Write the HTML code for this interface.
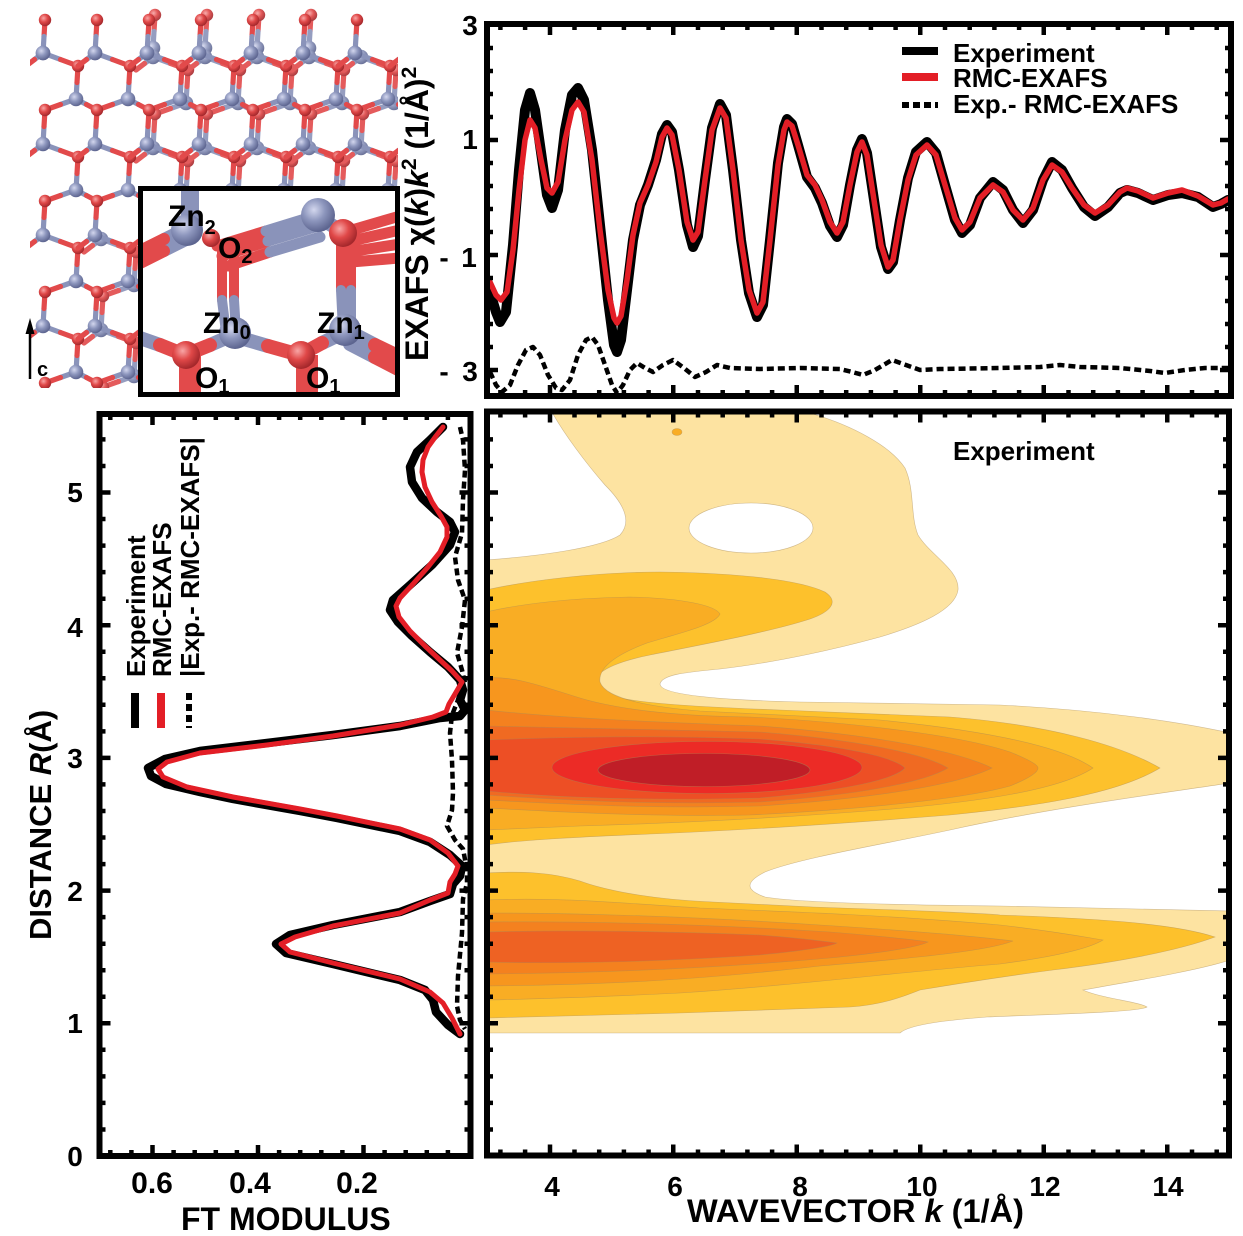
<!DOCTYPE html>
<html><head><meta charset="utf-8"><style>
html,body{margin:0;padding:0;background:#fff;}
svg{display:block;}
text{font-family:"Liberation Sans",Arial,sans-serif;font-weight:bold;fill:#000;}
</style></head><body>
<svg width="1243" height="1236" viewBox="0 0 1243 1236" xmlns="http://www.w3.org/2000/svg">
<defs>
<radialGradient id="gz" cx="38%" cy="35%" r="65%"><stop offset="0" stop-color="#d3d7ee"/><stop offset="0.5" stop-color="#8d96bd"/><stop offset="1" stop-color="#5d6590"/></radialGradient>
<radialGradient id="go" cx="38%" cy="35%" r="65%"><stop offset="0" stop-color="#f8a5a5"/><stop offset="0.5" stop-color="#e04848"/><stop offset="1" stop-color="#a5282c"/></radialGradient>
<g id="cell">
<path fill="none" stroke="#8a93ba" stroke-width="5.2" stroke-linecap="round" d="M0 0L17.5 6.5M34 29.5L33 46L17.5 51.5M1 73.5L0 91M33 46L43.5 51.5M0 0L-8.5 6.5"/>
<path fill="none" stroke="#e24a4b" stroke-width="5.2" stroke-linecap="round" d="M17.5 6.5L35 13L34 29.5M17.5 51.5L2 57L1 73.5M43.5 51.5L54 57M-8.5 6.5L-17 13"/>
<circle cx="0" cy="0" r="7.3" fill="url(#gz)"/>
<circle cx="33" cy="46" r="7.3" fill="url(#gz)"/>
<circle cx="35" cy="13" r="6.2" fill="url(#go)"/>
<circle cx="2" cy="57" r="6.2" fill="url(#go)"/>
</g>
<g id="stub">
<path fill="none" stroke="#e24a4b" stroke-width="5.2" stroke-linecap="round" d="M2 -33L1 -16.5"/>
<path fill="none" stroke="#8a93ba" stroke-width="5.2" stroke-linecap="round" d="M1 -16.5L0 0"/>
<circle cx="2" cy="-33" r="6.2" fill="url(#go)"/>
<circle cx="0" cy="0" r="7.3" fill="url(#gz)"/>
</g>
<clipPath id="lat"><rect x="30" y="5" width="368" height="383"/></clipPath>
<clipPath id="ins"><rect x="143" y="191" width="252" height="201"/></clipPath>
<clipPath id="cc"><rect x="490" y="414" width="737" height="740"/></clipPath>
<path id="kmaj" d="M550 0v11M673.25 0v11M796.75 0v11M920.25 0v11M1043.75 0v11M1167.25 0v11"/>
<path id="kmin" d="M500.4 0v6M525.1 0v6M574.5 0v6M599.2 0v6M623.9 0v6M648.6 0v6M698 0v6M722.7 0v6M747.4 0v6M772.1 0v6M821.5 0v6M846.2 0v6M870.9 0v6M895.6 0v6M945 0v6M969.7 0v6M994.4 0v6M1019.1 0v6M1068.5 0v6M1093.2 0v6M1117.9 0v6M1142.6 0v6M1192 0v6M1216.7 0v6"/>
<path id="emaj" d="M0 140h11M0 255h11M0 370h11"/>
<path id="emin" d="M0 48h6M0 71h6M0 94h6M0 117h6M0 163h6M0 186h6M0 209h6M0 232h6M0 278h6M0 301h6M0 324h6M0 347h6"/>
<path id="rmaj" d="M0 1023.3h11M0 890.6h11M0 757.9h11M0 625.2h11M0 492.5h11"/>
<path id="rmin" d="M0 1129.5h6M0 1102.9h6M0 1076.4h6M0 1049.8h6M0 996.8h6M0 970.2h6M0 943.7h6M0 917.1h6M0 864.1h6M0 837.5h6M0 811h6M0 784.4h6M0 731.4h6M0 704.8h6M0 678.3h6M0 651.7h6M0 598.7h6M0 572.1h6M0 545.6h6M0 519h6M0 466h6M0 439.4h6"/>
<path id="fmaj" d="M152.5 0v11M258 0v11M363.5 0v11"/>
<path id="fmin" d="M110.3 0v6M131.4 0v6M173.6 0v6M194.7 0v6M215.8 0v6M236.9 0v6M279.1 0v6M300.2 0v6M321.3 0v6M342.4 0v6M384.6 0v6M405.7 0v6M426.8 0v6M447.9 0v6"/>
</defs>
<rect width="1243" height="1236" fill="#fff"/>

<!-- ===== crystal lattice ===== -->
<g clip-path="url(#lat)">
<g opacity="0.9">
<use href="#stub" x="153" y="48"/><use href="#stub" x="205" y="48"/><use href="#stub" x="257" y="48"/><use href="#stub" x="309" y="48"/>
<use href="#cell" x="153" y="57"/><use href="#cell" x="205" y="57"/><use href="#cell" x="257" y="57"/><use href="#cell" x="309" y="57"/><use href="#cell" x="361" y="57"/>
<use href="#cell" x="153" y="148"/><use href="#cell" x="205" y="148"/><use href="#cell" x="257" y="148"/><use href="#cell" x="309" y="148"/><use href="#cell" x="361" y="148"/>
<use href="#cell" x="101" y="239"/><use href="#cell" x="153" y="239"/><use href="#cell" x="205" y="239"/>
<use href="#cell" x="101" y="330"/><use href="#cell" x="153" y="330"/>
</g>
<use href="#stub" x="43" y="53"/><use href="#stub" x="95" y="53"/><use href="#stub" x="147" y="53"/><use href="#stub" x="199" y="53"/><use href="#stub" x="251" y="53"/><use href="#stub" x="303" y="53"/><use href="#stub" x="355" y="53"/>
<use href="#cell" x="43" y="53"/><use href="#cell" x="95" y="53"/><use href="#cell" x="147" y="53"/><use href="#cell" x="199" y="53"/><use href="#cell" x="251" y="53"/><use href="#cell" x="303" y="53"/><use href="#cell" x="355" y="53"/><use href="#cell" x="407" y="53"/>
<use href="#cell" x="43" y="144"/><use href="#cell" x="95" y="144"/><use href="#cell" x="147" y="144"/><use href="#cell" x="199" y="144"/><use href="#cell" x="251" y="144"/><use href="#cell" x="303" y="144"/><use href="#cell" x="355" y="144"/><use href="#cell" x="407" y="144"/>
<use href="#cell" x="43" y="235"/><use href="#cell" x="95" y="235"/><use href="#cell" x="147" y="235"/><use href="#cell" x="199" y="235"/><use href="#cell" x="251" y="235"/><use href="#cell" x="303" y="235"/><use href="#cell" x="355" y="235"/><use href="#cell" x="407" y="235"/>
<use href="#cell" x="43" y="326"/><use href="#cell" x="95" y="326"/><use href="#cell" x="147" y="326"/><use href="#cell" x="199" y="326"/><use href="#cell" x="251" y="326"/><use href="#cell" x="303" y="326"/><use href="#cell" x="355" y="326"/><use href="#cell" x="407" y="326"/>
</g>

<!-- c arrow -->
<line x1="30" y1="379" x2="30" y2="330" stroke="#000" stroke-width="2.5"/>
<polygon points="30,318 25.5,334 34.5,334" fill="#000"/>
<text x="37" y="376" font-size="20">c</text>

<!-- ===== inset ===== -->
<rect x="140.5" y="188.5" width="257" height="206" fill="#fff"/>
<g clip-path="url(#ins)" stroke-linecap="round" fill="none">
<path stroke="#8a93ba" stroke-width="12" d="M186 228L164 239M186 240L164 251"/>
<path stroke="#e24a4b" stroke-width="12" d="M164 239L140 251M164 251L140 263"/>
<path stroke="#8a93ba" stroke-width="18" d="M190 230L190 185"/>
<path stroke="#e24a4b" stroke-width="11" d="M217 246L266 231M222 256L268 241M228 266L270 252"/>
<path stroke="#8a93ba" stroke-width="11" d="M266 231L318 215M268 241L318 226M270 252L320 237"/>
<path stroke="#8a93ba" stroke-width="14" d="M318 217L343 232"/>
<path stroke="#e24a4b" stroke-width="11" d="M345 232L400 216M347 242L400 230M349 252L400 244M351 262L400 258"/>
<path stroke="#e24a4b" stroke-width="10" d="M341 240L341 290M351 240L351 290"/>
<path stroke="#8a93ba" stroke-width="10" d="M341 290L343 330M351 290L351 328"/>
<path stroke="#e24a4b" stroke-width="10" d="M222 250L222 300M234 250L234 300"/>
<path stroke="#8a93ba" stroke-width="10" d="M222 300L226 332M234 300L236 332"/>
<path stroke="#8a93ba" stroke-width="14" d="M233 335L210 345M140 338L160 345M237 337L268 346M345 332L322 343M350 332L375 345M350 344L375 357"/>
<path stroke="#e24a4b" stroke-width="14" d="M210 345L185 355M160 345L185 355M268 346L300 355M322 343L300 355M375 345L400 357M375 357L400 370"/>
<path stroke="#e24a4b" stroke-width="22" stroke-linecap="butt" d="M190 355L190 400M307 355L307 400"/>
</g>
<g clip-path="url(#ins)">
<circle cx="187" cy="230" r="16" fill="url(#gz)"/>
<circle cx="211" cy="238" r="9" fill="url(#go)"/>
<circle cx="318" cy="215" r="17" fill="url(#gz)"/>
<circle cx="343" cy="233" r="14" fill="url(#go)"/>
<circle cx="235" cy="333" r="16" fill="url(#gz)"/>
<circle cx="345" cy="330" r="16" fill="url(#gz)"/>
<circle cx="186" cy="355" r="14" fill="url(#go)"/>
<circle cx="301" cy="355" r="14" fill="url(#go)"/>
</g>
<text x="168" y="226" font-size="30">Zn<tspan font-size="20" dy="8">2</tspan></text>
<text x="218" y="258" font-size="30">O<tspan font-size="20" dy="5">2</tspan></text>
<text x="203" y="333" font-size="30">Zn<tspan font-size="20" dy="6">0</tspan></text>
<text x="317" y="333" font-size="30">Zn<tspan font-size="20" dy="6">1</tspan></text>
<text x="195" y="388" font-size="30">O<tspan font-size="20" dy="5">1</tspan></text>
<text x="306" y="388" font-size="30">O<tspan font-size="20" dy="5">1</tspan></text>
<rect x="140.5" y="188.5" width="257" height="206" fill="none" stroke="#000" stroke-width="5"/>

<!-- ===== top EXAFS panel ===== -->
<g fill="none" stroke-linejoin="round" stroke-linecap="round">
<polyline stroke="#000" stroke-width="4.5" stroke-dasharray="7 4" stroke-linecap="butt" points="490,372 496,385 502,392 510,385 518,365 526,350 533,347 540,355 548,375 556,388 562,390 570,380 578,355 586,340 592,337 598,345 605,365 612,385 617,393 623,385 630,370 637,363 645,368 653,372 663,365 673,360 684,368 695,377 706,372 717,365 730,368 760,369 800,368 840,369 852,372 863,375 875,370 892,360 906,365 920,370 940,369 1000,368 1040,367 1060,365 1080,367 1120,368 1150,371 1165,373 1185,370 1205,368 1228,368"/>
<polyline stroke="#000" stroke-width="10" points="490,292 496,312 500,322 506,312 513,245 519,170 525,110 530,93 535,110 541,152 547,195 552,208 558,190 565,130 572,95 578,88 584,100 592,150 600,225 608,300 614,345 617,352 621,340 627,290 633,240 640,205 648,185 656,160 662,134 667,125 672,132 679,170 687,225 693,247 698,236 705,180 712,128 720,104 726,115 733,170 741,240 749,293 757,317 763,305 770,240 778,163 784,127 787,119 792,124 798,145 807,177 815,188 822,203 830,226 837,237 843,225 850,185 857,150 862,139 867,153 874,200 881,247 888,269 893,262 900,220 908,178 916,152 927,142 936,153 945,185 955,220 962,233 970,225 980,198 993,182 1003,190 1013,210 1023,223 1033,210 1043,180 1052,162 1062,170 1072,188 1084,207 1095,216 1108,207 1120,193 1127,190 1138,193 1153,200 1168,195 1182,193 1198,197 1213,207 1221,204 1228,200"/>
<polyline stroke="#e31e26" stroke-width="5.5" points="490,282 496,295 501,300 507,292 513,250 519,190 525,140 530,120 535,128 541,160 547,188 552,193 558,182 565,140 572,110 578,102 584,112 592,160 600,230 608,290 614,318 617,323 621,316 627,280 633,235 640,203 648,185 656,162 662,137 667,128 672,135 679,170 687,222 693,240 698,232 705,180 712,130 720,108 726,118 733,170 741,240 749,290 757,313 763,302 770,240 778,165 784,130 787,122 792,126 798,145 807,175 815,185 822,200 830,222 837,233 843,222 850,185 857,152 862,142 867,155 874,200 881,245 888,267 893,260 900,220 908,180 916,155 927,145 936,155 945,185 955,218 962,230 970,222 980,198 993,185 1003,192 1013,210 1023,220 1033,208 1043,180 1052,165 1062,172 1072,188 1084,205 1095,213 1108,205 1120,192 1127,188 1138,191 1153,198 1168,193 1182,190 1198,196 1213,205 1221,203 1228,199"/>
</g>
<rect x="487" y="24" width="744" height="372" fill="none" stroke="#000" stroke-width="6"/>
<g stroke="#000" stroke-width="4.5" fill="none">
<use href="#kmaj" y="24"/><use href="#kmin" y="24"/>
<use href="#kmaj" transform="translate(0,396) scale(1,-1)"/><use href="#kmin" transform="translate(0,396) scale(1,-1)"/>
<use href="#emaj" x="487"/><use href="#emin" x="487"/>
<use href="#emaj" transform="translate(1231,0) scale(-1,1)"/><use href="#emin" transform="translate(1231,0) scale(-1,1)"/>
</g>
<!-- legend -->
<line x1="902" y1="51" x2="938" y2="51" stroke="#000" stroke-width="8"/>
<line x1="902" y1="77" x2="938" y2="77" stroke="#e31e26" stroke-width="8"/>
<line x1="902" y1="105" x2="938" y2="105" stroke="#000" stroke-width="6" stroke-dasharray="7 4"/>
<text x="953" y="62" font-size="26">Experiment</text>
<text x="953" y="87" font-size="26">RMC-EXAFS</text>
<text x="953" y="113" font-size="26">Exp.- RMC-EXAFS</text>
<!-- y tick labels -->
<text x="470" y="35" font-size="28" text-anchor="middle">3</text>
<text x="470" y="149" font-size="28" text-anchor="middle">1</text>
<text x="469" y="267" font-size="28" text-anchor="middle">1</text>
<text x="444" y="267" font-size="28" text-anchor="middle">-</text>
<text x="470" y="381" font-size="28" text-anchor="middle">3</text>
<text x="444" y="381" font-size="28" text-anchor="middle">-</text>
<text transform="translate(428,361) rotate(-90)" font-size="32">EXAFS χ(<tspan font-style="italic">k</tspan>)<tspan font-style="italic">k</tspan><tspan font-size="21" dy="-12">2</tspan><tspan dy="12"> (1/Å)</tspan><tspan font-size="21" dy="-12">2</tspan></text>

<!-- ===== contour panel ===== -->
<g clip-path="url(#cc)" stroke="#a88a5a" stroke-width="0.6" stroke-opacity="0.55">
<path fill="#fde3a1" d="M553,414 L813,414 C850,425 890,445 905,468 C915,490 910,515 918,535 C930,555 960,570 958,590 C955,610 920,625 880,637 C840,648 780,662 720,669 C690,672 662,674 660,684 C660,695 720,700 800,702 L1000,705 C1100,710 1180,722 1230,733 L1230,783 C1150,795 1050,808 950,830 C880,845 800,858 765,872 C745,882 745,890 765,897 C800,903 900,905 1000,906 L1230,911 L1230,960 C1200,970 1140,980 1083,990 C1100,998 1140,1002 1147,1007 C1140,1012 1060,1014 987,1017 C950,1020 910,1024 900,1033 L486,1033 L486,560 C540,556 600,548 620,535 C632,522 625,505 605,485 C585,462 565,435 553,414 Z"/>
<ellipse cx="751" cy="528" rx="62" ry="25" fill="#fff"/>
<path fill="#fdc12c" d="M486,590 C530,580 600,572 660,572 C740,573 800,580 825,592 C840,602 830,612 810,619 C770,632 700,645 650,655 C600,665 585,680 600,692 C620,703 700,707 780,710 L950,717 C1050,725 1120,745 1160,768 C1120,792 1050,805 950,815 C850,823 750,830 650,834 C580,837 520,840 486,845 Z"/>
<path fill="#fdc12c" d="M486,873 C520,871 550,872 580,881 C610,892 660,900 713,902 L813,907 C900,910 980,913 1000,915 C1080,918 1170,922 1215,937 C1180,950 1120,962 1053,970 C1000,977 950,985 920,990 C900,998 880,1005 850,1007 L680,1013 L486,1018 Z"/>
<path fill="#f9ad24" d="M486,612 C520,604 570,598 630,597 C680,598 715,605 720,614 C715,625 680,633 647,643 C615,655 598,668 600,682 C605,697 640,706 700,711 L880,720 C980,730 1060,745 1093,768 C1060,790 980,802 880,810 C780,818 680,823 580,826 L486,830 Z"/>
<path fill="#f9ad24" d="M486,900 C560,897 620,903 700,908 C800,912 900,916 1000,925 C1060,932 1090,938 1103,940 C1090,948 1060,956 1000,964 C900,972 800,985 680,993 C600,997 540,999 486,1000 Z"/>
<path fill="#f7961e" d="M486,678 C510,676 530,682 580,698 C620,710 680,716 750,717 C850,722 960,735 1010,752 C1030,760 1038,765 1038,768 C1038,772 1030,778 1010,786 C960,800 850,810 750,815 C650,817 560,812 486,808 Z"/>
<path fill="#f7961e" d="M486,913 C580,913 700,917 820,925 C930,932 990,938 1013,941 C990,950 930,957 820,966 C700,980 600,985 486,986 Z"/>
<path fill="#f4811f" d="M486,710 C560,718 650,722 760,726 C880,735 960,752 992,768 C960,784 880,798 760,806 C650,809 560,804 486,800 Z"/>
<path fill="#f4811f" d="M486,922 C600,921 720,925 830,932 C890,937 918,940 928,942 C918,947 890,952 830,958 C720,968 600,973 486,974 Z"/>
<path fill="#f06a22" d="M486,726 C560,728 650,729 760,732 C860,740 925,754 948,768 C925,782 860,795 760,802 C650,805 560,800 486,795 Z"/>
<path fill="#ee6223" d="M486,932 C560,930 660,931 760,935 C800,938 830,942 837,943 C830,947 800,951 760,955 C660,962 560,964 486,962 Z"/>
<path fill="#ed4f25" d="M486,740 C560,737 650,735 760,739 C850,746 895,758 905,768 C895,779 850,790 760,798 C650,801 560,798 486,791 Z"/>
<ellipse cx="707" cy="767.5" rx="155" ry="26" fill="#ec2b26"/>
<ellipse cx="704" cy="770" rx="106" ry="16.5" fill="#c01e27"/>
<ellipse cx="677" cy="432" rx="5" ry="3.5" fill="#f9ad24"/>
</g>
<text x="953" y="460" font-size="26">Experiment</text>
<rect x="487" y="411.5" width="742" height="744" fill="none" stroke="#000" stroke-width="6"/>
<g stroke="#000" stroke-width="4.5" fill="none">
<use href="#kmaj" y="411.5"/><use href="#kmin" y="411.5"/>
<use href="#kmaj" transform="translate(0,1155.5) scale(1,-1)"/><use href="#kmin" transform="translate(0,1155.5) scale(1,-1)"/>
<use href="#rmaj" x="487"/><use href="#rmin" x="487"/>
<use href="#rmaj" transform="translate(1229,0) scale(-1,1)"/><use href="#rmin" transform="translate(1229,0) scale(-1,1)"/>
</g>
<g font-size="28" text-anchor="middle">
<text x="552" y="1196">4</text><text x="675" y="1196">6</text><text x="800" y="1196">8</text>
<text x="922" y="1196">10</text><text x="1045" y="1196">12</text><text x="1168" y="1196">14</text>
</g>
<text x="687" y="1222" font-size="32.5" textLength="337" lengthAdjust="spacingAndGlyphs">WAVEVECTOR <tspan font-style="italic">k</tspan> (1/Å)</text>

<!-- ===== FT panel ===== -->
<g fill="none" stroke-linejoin="round" stroke-linecap="round">
<polyline stroke="#000" stroke-width="4.5" stroke-dasharray="7 4" stroke-linecap="butt" points="460,427 463,440 465,470 463,500 462,533 455,557 458,580 465,600 462,627 457,653 462,670 465,683 458,700 452,715 450,733 452,760 453,793 452,810 447,826 455,840 463,849 467,870 467,883 463,899 462,933 458,976 457,1006 460,1020 465,1029"/>
<polyline stroke="#000" stroke-width="8.5" points="443,427 430,440 417,452 410,467 412,482 422,498 437,512 450,522 455,532 450,545 432,565 410,585 393,600 390,610 398,622 412,636 430,652 448,667 460,680 463,690 460,700 465,710 460,716 440,718 400,726 333,735 267,743 200,751 165,759 148,768 151,776 166,784 200,792 233,799 300,811 337,818 400,831 430,842 450,855 462,866 460,876 453,884 450,894 430,901 400,912 333,925 290,935 276,944 286,953 333,964 400,980 425,990 433,1000 436,1012 448,1025 460,1034"/>
<polyline stroke="#e31e26" stroke-width="5" points="443,427 436,436 428,447 423,460 422,472 425,487 432,502 441,516 447,527 447,537 440,552 428,567 413,584 400,598 396,606 399,617 410,631 425,646 440,660 452,671 462,682 455,694 449,704 446,712 433,717 400,725 333,736 267,745 200,753 167,762 158,769 163,777 187,787 233,797 300,809 337,816 400,829 430,840 448,853 458,866 455,874 450,882 448,893 430,900 400,913 333,926 295,937 281,944 290,952 333,963 400,979 430,992 443,1003 452,1018 460,1034"/>
</g>
<rect x="99.5" y="414" width="371" height="742" fill="none" stroke="#000" stroke-width="6"/>
<g stroke="#000" stroke-width="4.5" fill="none">
<use href="#fmaj" y="414"/><use href="#fmin" y="414"/>
<use href="#fmaj" transform="translate(0,1156) scale(1,-1)"/><use href="#fmin" transform="translate(0,1156) scale(1,-1)"/>
<use href="#rmaj" x="99.5"/><use href="#rmin" x="99.5"/>
<use href="#rmaj" transform="translate(470.5,0) scale(-1,1)"/><use href="#rmin" transform="translate(470.5,0) scale(-1,1)"/>
</g>
<!-- FT legend -->
<line x1="135" y1="693" x2="135" y2="728" stroke="#000" stroke-width="8"/>
<line x1="161" y1="693" x2="161" y2="728" stroke="#e31e26" stroke-width="8"/>
<line x1="189" y1="693" x2="189" y2="728" stroke="#000" stroke-width="6" stroke-dasharray="7 4"/>
<text transform="translate(145,677) rotate(-90)" font-size="26">Experiment</text>
<text transform="translate(171,677) rotate(-90)" font-size="26">RMC-EXAFS</text>
<text transform="translate(199,677) rotate(-90)" font-size="26">|Exp.- RMC-EXAFS|</text>
<g font-size="28" text-anchor="middle">
<text x="75" y="502">5</text><text x="75" y="637">4</text><text x="75" y="768">3</text>
<text x="75" y="901">2</text><text x="75" y="1033">1</text><text x="75" y="1166">0</text>
</g>
<g font-size="30" text-anchor="middle">
<text x="152" y="1193">0.6</text><text x="250" y="1193">0.4</text><text x="357" y="1193">0.2</text>
</g>
<text x="181" y="1230" font-size="32">FT MODULUS</text>
<text transform="translate(51,940) rotate(-90)" font-size="31">DISTANCE <tspan font-style="italic">R</tspan>(Å)</text>
</svg>
</body></html>
